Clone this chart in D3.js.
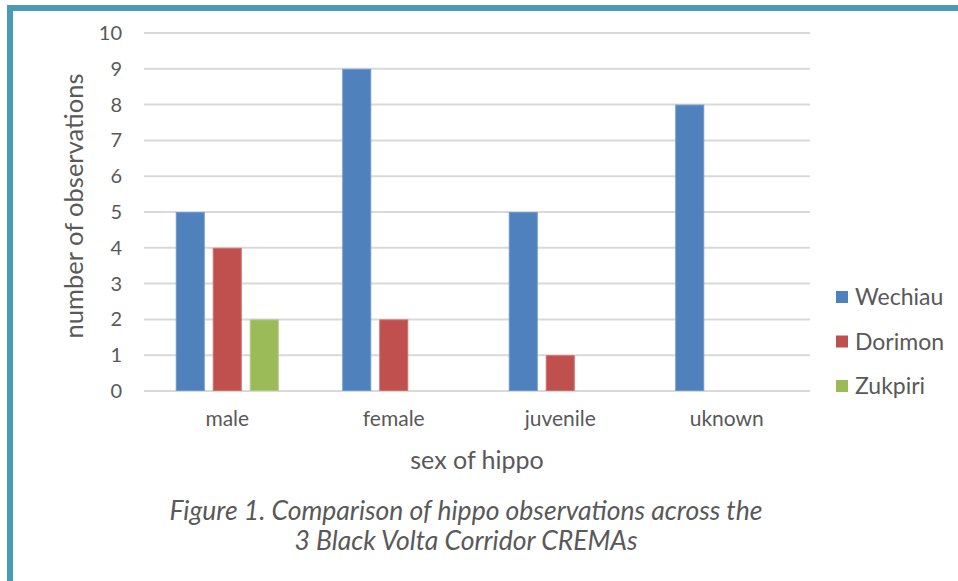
<!DOCTYPE html>
<html>
<head>
<meta charset="utf-8">
<script src="https://cdn.jsdelivr.net/npm/d3@7"></script>
<style>
  html, body { margin: 0; padding: 0; background: #fff; }
  svg { display: block; font-family: "Lato", "Open Sans", sans-serif; }
</style>
</head>
<body>
<svg id="chart" width="958" height="581"></svg>
<script>
// Hippo observations by sex, per CREMA
const categories = ["male", "female", "juvenile", "uknown"];
const seriesNames = ["Wechiau", "Dorimon", "Zukpiri"];
const wechiau = [5, 9, 5, 8];
const dorimon = [4, 2, 1, 0];
const zukpiri = [2, 0, 0, 0];
const yTicks = [0, 1, 2, 3, 4, 5, 6, 7, 8, 9, 10];
const seriesValues = [wechiau, dorimon, zukpiri];
const colors = ["#4F81BD", "#C0504D", "#9BBB59"];
const strokes = ["#6E98CC", "#D06E6B", "#B0CB7C"];

const svg = d3.select("#chart");
const textColor = "#595959";

// teal frame: left and top edges
svg.append("rect").attr("x", 7).attr("y", 5).attr("width", 951).attr("height", 6).attr("fill", "#4A9BB6");
svg.append("rect").attr("x", 7).attr("y", 5).attr("width", 6).attr("height", 576).attr("fill", "#4A9BB6");

const plot = { left: 144, right: 810, top: 33, bottom: 391 };

const y = d3.scaleLinear().domain([0, 10]).range([plot.bottom, plot.top]);
const x0 = d3.scaleBand().domain(categories).range([plot.left, plot.right]);
const groupW = 103;
const x1 = d3.scaleBand().domain(seriesNames).range([0, groupW]).paddingInner(0.216);
const groupOffset = (x0.bandwidth() - groupW) / 2;

// gridlines
svg.append("g").selectAll("line").data(yTicks).join("line")
  .attr("x1", plot.left).attr("x2", plot.right)
  .attr("y1", d => y(d)).attr("y2", d => y(d))
  .attr("stroke", "#D9D9D9").attr("stroke-width", 2);

// y axis labels
const yAxis = d3.axisLeft(y).tickValues(yTicks).tickSize(0).tickPadding(0);
const yg = svg.append("g").attr("transform", `translate(${plot.left - 22},0)`).call(yAxis);
yg.select(".domain").remove();
yg.selectAll("text").attr("fill", textColor).style("font-size", "20px").style("font-family", "Lato, sans-serif");

// bars
const rows = categories.map((c, i) => ({ cat: c, vals: seriesNames.map((s, j) => ({ s, j, v: seriesValues[j][i] })) }));
svg.append("g").selectAll("g").data(rows).join("g")
  .attr("transform", d => `translate(${x0(d.cat) + groupOffset},0)`)
  .selectAll("rect").data(d => d.vals.filter(e => e.v > 0)).join("rect")
  .attr("x", d => x1(d.s) + 0.5)
  .attr("y", d => y(d.v) + 0.5)
  .attr("width", x1.bandwidth() - 1)
  .attr("height", d => y(0) - y(d.v) - 1)
  .attr("fill", d => colors[d.j])
  .attr("stroke", d => strokes[d.j]).attr("stroke-width", 1);

// x axis labels
const xAxis = d3.axisBottom(x0).tickSize(0).tickPadding(0);
const xg = svg.append("g").attr("transform", `translate(0,${plot.bottom + 20})`).call(xAxis);
xg.select(".domain").remove();
xg.selectAll("text").attr("fill", textColor).style("font-size", "21px").style("font-family", "Lato, sans-serif");

// axis titles
svg.append("text").attr("x", 477).attr("y", 469).attr("text-anchor", "middle")
  .attr("fill", textColor).style("font-size", "25px").text("sex of hippo");
svg.append("text").attr("transform", "translate(83,206) rotate(-90)").attr("text-anchor", "middle")
  .attr("fill", textColor).style("font-size", "25.5px").text("number of observations");

// legend
const legend = svg.append("g").selectAll("g").data(seriesNames).join("g")
  .attr("transform", (d, i) => `translate(836,${297 + i * 44.5})`);
legend.append("rect").attr("x", 0).attr("y", -6).attr("width", 12).attr("height", 12)
  .attr("fill", (d, i) => colors[i]);
legend.append("text").attr("x", 19).attr("dy", "0.35em").attr("fill", textColor)
  .style("font-size", "23px").text(d => d);

// caption
const caption = svg.append("text").attr("text-anchor", "middle").attr("fill", textColor)
  .style("font-size", "26.5px").style("font-style", "italic");
caption.append("tspan").attr("x", 466).attr("y", 520).text("Figure 1. Comparison of hippo observations across the");
caption.append("tspan").attr("x", 466).attr("y", 550).text("3 Black Volta Corridor CREMAs");
</script>
</body>
</html>
